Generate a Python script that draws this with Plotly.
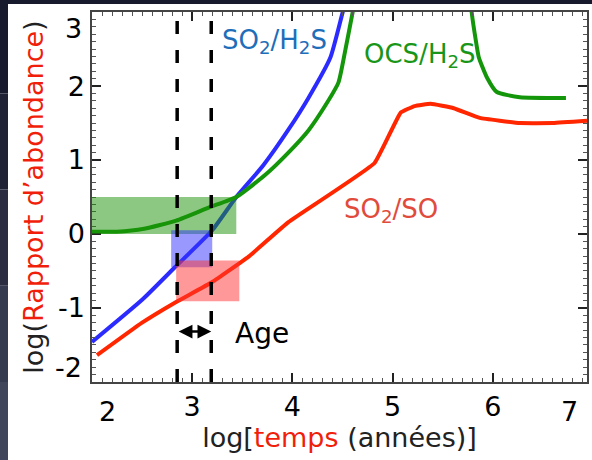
import plotly.graph_objects as go

# log(time / yr) and log(abundance ratio) for each chemical clock
so2_h2s_t = [2.00, 2.50, 2.82, 3.20, 3.44, 3.71, 3.96, 4.16, 4.38, 4.50, 4.55]
so2_h2s_r = [-1.46, -0.89, -0.46, 0.05, 0.50, 0.93, 1.41, 1.84, 2.39, 2.99, 3.23]

ocs_h2s_t = [2.00, 2.25, 2.52, 2.84, 3.17, 3.44, 3.73, 3.96, 4.16, 4.33, 4.46, 4.53, 4.60, 4.63,
             None, 5.78, 5.79, 5.83, 5.86, 5.94, 6.04, 6.27, 6.73]
ocs_h2s_r = [0.03, 0.03, 0.07, 0.18, 0.36, 0.50, 0.80, 1.10, 1.40, 1.74, 2.05, 2.50, 2.99, 3.23,
             None, 3.16, 2.99, 2.62, 2.39, 2.12, 1.92, 1.85, 1.84]

so2_so_t = [2.05, 2.50, 2.84, 3.20, 3.56, 3.96, 4.82, 5.08, 5.22, 5.38, 5.61, 5.87, 6.27, 6.60, 6.94]
so2_so_r = [-1.64, -1.20, -0.92, -0.65, -0.31, 0.16, 0.96, 1.64, 1.73, 1.76, 1.70, 1.57, 1.50, 1.50, 1.53]

# observed ratio bands: (t_min, t_max, r_min, r_max)
obs_ocs_h2s = (2.00, 3.44, 0.00, 0.50)
obs_so2_h2s = (2.79, 3.20, -0.45, 0.05)
obs_so2_so = (2.84, 3.47, -0.91, -0.36)

# derived age interval in log(years)
age_range = [2.85, 3.19]
age_arrow_r = -1.32

# labels at the frame corners are set slightly inward of their ticks
x_label_alias = {"2": ""}
y_label_alias = {"3": "", "−2": "", "−1": "-1"}
corner_labels = [("x", 2.15, "2"), ("x", 6.77, "7"), ("y", 2.78, "3"), ("y", -1.80, "-2")]

FONT = "DejaVu Sans"
BLUE = "rgb(43,43,255)"
GREEN = "rgb(20,150,10)"
RED = "rgb(255,38,0)"

fig = go.Figure()
fig.add_trace(go.Scatter(x=so2_h2s_t, y=so2_h2s_r, mode="lines",
                         line=dict(color=BLUE, width=4, shape="spline", smoothing=0.5),
                         showlegend=False))
fig.add_trace(go.Scatter(x=ocs_h2s_t, y=ocs_h2s_r, mode="lines", connectgaps=False,
                         line=dict(color=GREEN, width=4, shape="spline", smoothing=0.5),
                         showlegend=False))
fig.add_trace(go.Scatter(x=so2_so_t, y=so2_so_r, mode="lines",
                         line=dict(color=RED, width=4, shape="spline", smoothing=0.3),
                         showlegend=False))

# dark slide border along the top and left edges (paper coords; plot area is 495x370 px)
shapes = [
    dict(type="rect", xref="paper", yref="paper", x0=-0.2, x1=1.02, y0=1.0216, y1=1.04,
         fillcolor="#171a2c", line=dict(width=0), layer="below"),
]
strip_cols = ["#171a2c", "#1f2235", "#2a2d42", "#363a50", "#41455b"]
y_edges = [1.04, 0.78, 0.52, 0.26, 0.0, -0.22]
for col, ya, yb in zip(strip_cols, y_edges[:-1], y_edges[1:]):
    shapes.append(dict(type="rect", xref="paper", yref="paper", x0=-0.2, x1=-0.1697,
                       y0=yb, y1=ya, fillcolor=col, line=dict(width=0), layer="below"))

for (t0, t1, r0, r1), col in [(obs_ocs_h2s, "rgba(25,145,5,0.5)"),
                              (obs_so2_h2s, "rgba(50,50,255,0.5)"),
                              (obs_so2_so, "rgba(255,50,50,0.5)")]:
    shapes.append(dict(type="rect", xref="x", yref="y", x0=t0, x1=t1, y0=r0, y1=r1,
                       fillcolor=col, line=dict(width=0), layer="above"))
for t in age_range:
    shapes.append(dict(type="line", xref="x", yref="paper", x0=t, x1=t, y0=0, y1=1,
                       line=dict(color="black", width=3.5, dash="13px,16px"), layer="above"))

annotations = [
    dict(x=3.82, y=2.60, xref="x", yref="y", text="SO<sub>2</sub>/H<sub>2</sub>S", showarrow=False,
         font=dict(family=FONT, size=26, color="rgb(30,110,185)")),
    dict(x=5.27, y=2.42, xref="x", yref="y", text="OCS/H<sub>2</sub>S", showarrow=False,
         font=dict(family=FONT, size=26, color="rgb(25,150,25)")),
    dict(x=4.98, y=0.32, xref="x", yref="y", text="SO<sub>2</sub>/SO", showarrow=False,
         font=dict(family=FONT, size=26, color="rgb(225,75,60)")),
    dict(x=3.70, y=-1.34, xref="x", yref="y", text="Age", showarrow=False,
         font=dict(family=FONT, size=28, color="black")),
    dict(x=age_range[1], y=age_arrow_r, ax=age_range[0], ay=age_arrow_r,
         xref="x", yref="y", axref="x", ayref="y", text="", showarrow=True,
         arrowhead=2, arrowside="end+start", arrowsize=1.1, arrowwidth=2.5,
         arrowcolor="black", standoff=0, startstandoff=0),
]
for ax_name, pos, txt in corner_labels:
    if ax_name == "x":
        annotations.append(dict(x=pos, y=0, xref="x", yref="paper", yanchor="top", yshift=-12,
                                text=txt, showarrow=False,
                                font=dict(family=FONT, size=27, color="black")))
    else:
        annotations.append(dict(x=0, y=pos, xref="paper", yref="y", xanchor="right", xshift=-8,
                                text=txt, showarrow=False,
                                font=dict(family=FONT, size=27, color="black")))

axis_common = dict(showline=True, linecolor="#444", linewidth=1.5, mirror="ticks",
                   tickmode="linear", tick0=0, dtick=1,
                   ticks="inside", ticklen=9, tickcolor="#222", tickwidth=1.5,
                   showgrid=False, zeroline=False, automargin=False,
                   tickfont=dict(family=FONT, size=27, color="black"),
                   minor=dict(ticks="inside", ticklen=4, tick0=0, dtick=0.1,
                              tickcolor="#555", tickwidth=1))

fig.update_xaxes(range=[2.0, 6.94], labelalias=x_label_alias, **axis_common,
                 title=dict(text="log[<span style='color:rgb(240,30,10)'>temps</span> (années)]",
                            font=dict(family=FONT, size=27, color="#222"), standoff=6))
fig.update_yaxes(range=[-2.002, 3.002], labelalias=y_label_alias, **axis_common,
                 title=dict(text="log(<span style='color:rgb(240,30,10)'>Rapport d’abondance</span>)",
                            font=dict(family=FONT, size=27, color="#222"), standoff=6))

fig.update_layout(width=592, height=460, margin=dict(l=92, r=5, t=12, b=78),
                  paper_bgcolor="white", plot_bgcolor="white",
                  shapes=shapes, annotations=annotations)

fig.write_html("out.html")
